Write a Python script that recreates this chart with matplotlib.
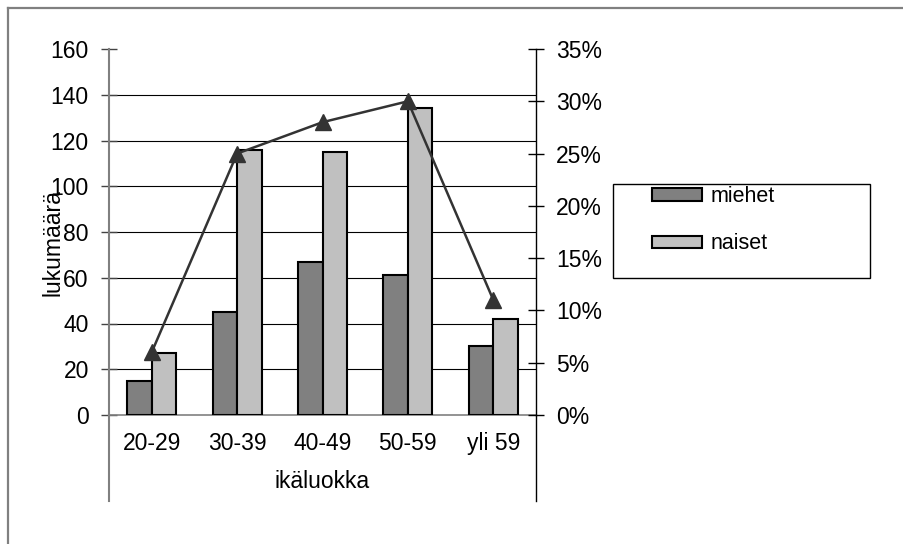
import matplotlib.pyplot as plt
import numpy as np
from matplotlib.lines import Line2D
from matplotlib.patches import Rectangle
from matplotlib.ticker import PercentFormatter

plt.rcParams['font.family'] = ['Liberation Sans', 'DejaVu Sans']

# ikäluokat ja lukumäärät
categories = ["20-29", "30-39", "40-49", "50-59", "yli 59"]
miehet = [15, 45, 67, 61, 30]
naiset = [27, 116, 115, 134, 42]
osuus = [0.06, 0.25, 0.28, 0.30, 0.11]   # osuus kaikista, oikea akseli

left_ticks = list(range(0, 161, 20))
right_ticks = [0.0, 0.05, 0.10, 0.15, 0.20, 0.25, 0.30, 0.35]

W, H = 904, 544
FS = 16.5
fig = plt.figure(figsize=(W / 100, H / 100), dpi=100)

def fx(px):
    return px / W

def fy(py):
    return 1 - py / H

# kuvion reunaviiva (vasen ja ylä)
fig.add_artist(Line2D([fx(8), 1], [fy(7.5), fy(7.5)], color="#808080", lw=1.6))
fig.add_artist(Line2D([fx(8), fx(8)], [0, fy(7.5)], color="#808080", lw=1.6))

x0, x1, y0, y1 = 109, 536, 49, 415
ax = fig.add_axes([fx(x0), fy(y1), fx(x1 - x0), (y1 - y0) / H])
ax2 = ax.twinx()

x = np.arange(len(categories))
w = 0.287
ax.bar(x - w / 2, miehet, w, color="#808080", edgecolor="black", lw=1.5, label="miehet", zorder=3)
ax.bar(x + w / 2, naiset, w, color="#c0c0c0", edgecolor="black", lw=1.5, label="naiset", zorder=3)
ax.hlines(left_ticks[1:-1], -0.5, len(categories) - 0.5, color="black", lw=0.8, zorder=1)

ax.set_xlim(-0.5, len(categories) - 0.5)
ax.set_ylim(0, 160)
ax.set_yticks(left_ticks)
ax.set_xticks(x, categories)
ax.tick_params(axis="x", length=0, pad=12, labelsize=FS)
ax.tick_params(axis="y", direction="inout", length=11, width=1, color="#444444", pad=9, labelsize=FS)

for s in ["top", "right"]:
    ax.spines[s].set_visible(False)
ax.spines["left"].set_color("#808080")
ax.spines["left"].set_linewidth(1.5)
ax.spines["bottom"].set_color("#808080")
ax.spines["bottom"].set_linewidth(1.2)

# luokka-akselin jatkeet alas
ext = -(501 - y1) / (y1 - y0)
ax.plot([0, 0], [0, ext], transform=ax.transAxes, clip_on=False, color="#808080", lw=1.5)
ax.plot([1, 1], [0, ext], transform=ax.transAxes, clip_on=False, color="black", lw=1.0)

ax.text(0.5, -(482 - y1) / (y1 - y0), "ikäluokka", transform=ax.transAxes,
        ha="center", va="center", fontsize=FS)
ax.text(-(x0 - 53) / (x1 - x0), (y1 - 243) / (y1 - y0), "lukumäärä", transform=ax.transAxes,
        ha="center", va="center", rotation=90, fontsize=FS)

ax2.plot(x, osuus, color="#333333", lw=1.8, marker="^", markersize=11, zorder=4)
ax2.set_ylim(0, 0.35)
ax2.set_yticks(right_ticks)
ax2.yaxis.set_major_formatter(PercentFormatter(1.0, decimals=0))
ax2.tick_params(axis="y", direction="inout", length=11, width=1, color="black", pad=9, labelsize=FS)
for s in ["top", "left", "bottom"]:
    ax2.spines[s].set_visible(False)
ax2.spines["right"].set_color("black")
ax2.spines["right"].set_linewidth(1.0)

# selite
fig.add_artist(Rectangle((fx(613), fy(278)), fx(870 - 613), (278 - 184) / H,
                         fill=False, edgecolor="black", lw=1.0))
handles, labels = ax.get_legend_handles_labels()
fig.legend(handles, labels, loc="upper left", bbox_to_anchor=(fx(652), fy(186)),
           frameon=False, fontsize=15.5, borderpad=0, borderaxespad=0,
           handlelength=2.33, handleheight=0.51, handletextpad=0.37, labelspacing=1.23)

fig.savefig("out.png", dpi=100)
